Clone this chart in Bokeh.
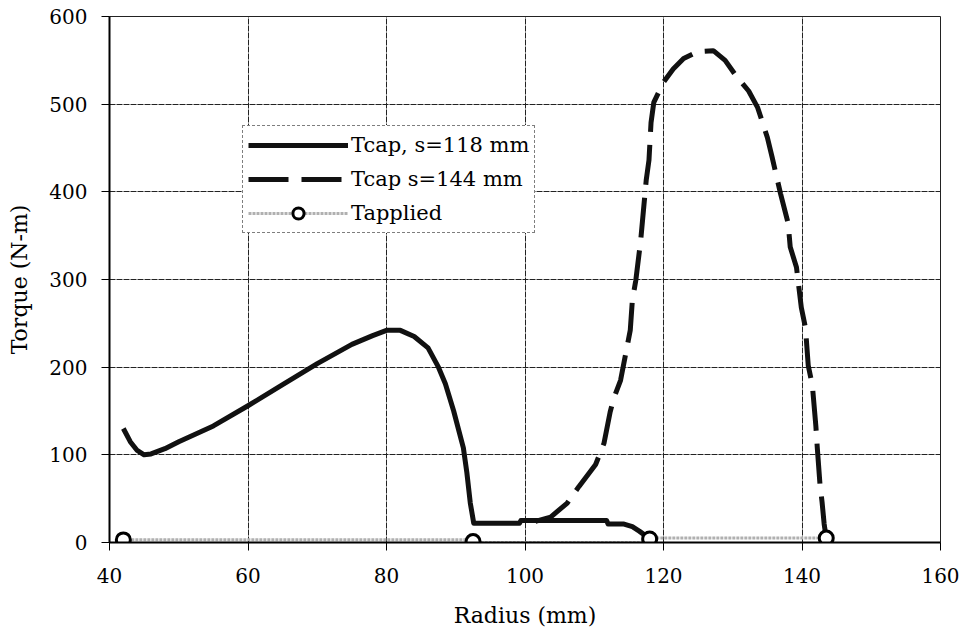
from bokeh.plotting import figure
from bokeh.models import Range1d, Legend, LegendItem, FixedTicker
from bokeh.embed import file_html
from bokeh.resources import INLINE

# Tcap, s=118 mm
r118 = [42, 43, 44, 45, 46, 48, 50, 55, 60, 65, 70, 75, 78, 80, 82, 84, 86, 87.5, 88.5, 89.7,
        91.1, 91.6, 92.1, 92.6, 93, 96, 99.2, 99.4, 103.7, 108, 111.8, 112, 114.3, 115.5, 116.5, 117.2, 118]
v118 = [130, 115, 105, 100, 101, 107, 115, 133, 156, 180, 204, 226, 236, 242, 242, 235, 222, 200, 181, 150,
        108, 80, 45, 22, 22, 22, 22, 25, 25, 25, 25, 21, 21, 18, 13, 9, 5]

# Tcap s=144 mm
r144 = [101.5, 103.7, 106.1, 107.8, 110.2, 111.4, 112.3, 112.8, 113.8, 115.2, 115.5, 116, 116.7, 117.5, 117.9,
        118.2, 118.6, 120, 121.4, 122.9, 125, 127.2, 128.9, 130.5, 132.3, 133.6, 135, 135.7, 136.9, 138,
        138.3, 139.2, 139.9, 140.5, 140.9, 141.5, 142, 142.2, 142.6, 142.9, 143.2, 143.5]
v144 = [24, 29, 45, 64, 89, 113, 149, 164, 185, 242, 276, 299, 344, 413, 436,
        479, 502, 525, 540, 552, 560, 561, 550, 532, 515, 496, 462, 439, 398, 364,
        337, 314, 268, 245, 202, 179, 133, 109, 66, 46, 21, 5]

# Tapplied
tapp_line_r = [42, 92.5, 92.5, 118, 118, 143.5]
tapp_line_v = [3, 3, 0, 0, 5, 5]
tapp_pt_r = [42, 92.5, 118, 143.5]
tapp_pt_v = [3, 1, 4, 5]

x_ticks = [40, 60, 80, 100, 120, 140, 160]
y_ticks = [0, 100, 200, 300, 400, 500, 600]

FONT = "DejaVu Serif"

p = figure(width=968, height=642, output_backend="svg", toolbar_location=None,
           x_range=Range1d(40, 160), y_range=Range1d(0, 600),
           min_border_left=109, min_border_right=28, min_border_top=16, min_border_bottom=100)
p.background_fill_color = "white"
p.border_fill_color = "white"
p.outline_line_color = "#222222"
p.outline_line_width = 1

for ax in (p.xaxis[0], p.yaxis[0]):
    ax.axis_line_color = "black"
    ax.axis_line_width = 2
    ax.major_tick_line_color = "black"
    ax.major_tick_line_width = 1
    ax.major_tick_out = 8
    ax.major_tick_in = 0
    ax.minor_tick_line_color = None
    ax.major_label_text_font = FONT
    ax.major_label_text_font_size = "20px"
    ax.major_label_text_color = "black"
    ax.axis_label_text_font = FONT
    ax.axis_label_text_font_size = "22px"
    ax.axis_label_text_font_style = "normal"
    ax.axis_label_text_color = "black"

p.xaxis.ticker = FixedTicker(ticks=x_ticks)
p.yaxis.ticker = FixedTicker(ticks=y_ticks)
p.xaxis.axis_label = "Radius (mm)"
p.yaxis.axis_label = "Torque (N-m)"
p.xaxis.major_label_standoff = 17
p.xaxis.axis_label_standoff = 17
p.yaxis.major_label_standoff = 14
p.yaxis.axis_label_standoff = 14

p.grid.grid_line_color = "#222222"
p.grid.grid_line_width = 1
p.grid.grid_line_dash = "6 1"

l1 = p.line(r118, v118, line_color="#111111", line_width=5, line_join="round")
l2 = p.line(r144, v144, line_color="#111111", line_width=5, line_dash="40 13")
l3 = p.line(tapp_line_r, tapp_line_v, line_color="#b0b0b0", line_width=3, line_dash="3 1")
s3 = p.scatter(tapp_pt_r, tapp_pt_v, marker="circle", size=14, fill_color="white",
               line_color="black", line_width=3)

legend = Legend(items=[
    LegendItem(label="Tcap, s=118 mm", renderers=[l1]),
    LegendItem(label="Tcap s=144 mm", renderers=[l2]),
    LegendItem(label="Tapplied", renderers=[l3, s3]),
], location=(133, 309))
legend.label_text_font = FONT
legend.label_text_font_size = "21px"
legend.label_text_color = "black"
legend.glyph_width = 100
legend.glyph_height = 28
legend.label_height = 28
legend.label_standoff = 3
legend.spacing = 6
legend.padding = 5
legend.margin = 0
legend.border_line_color = "black"
legend.border_line_width = 1.5
legend.border_line_dash = "3 1"
legend.background_fill_color = "white"
legend.background_fill_alpha = 1
p.add_layout(legend, "center")

open("out.html", "w").write(file_html(p, INLINE))
